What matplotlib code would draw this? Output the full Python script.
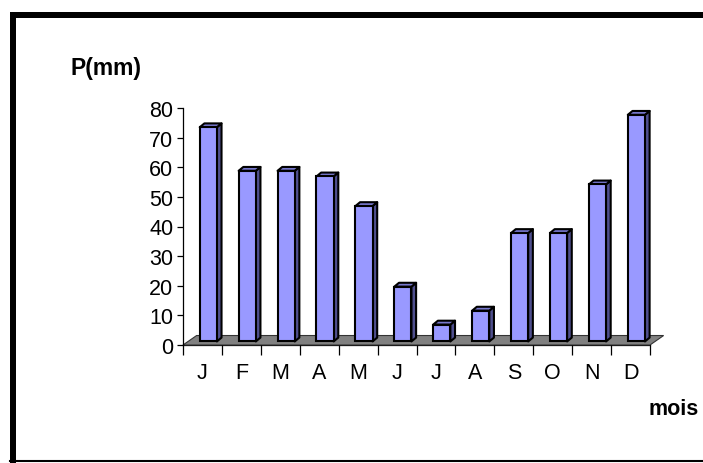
import matplotlib.pyplot as plt
from matplotlib.patches import Polygon, Rectangle
from matplotlib.lines import Line2D

plt.rcParams['font.family'] = ['Liberation Sans', 'DejaVu Sans']

# monthly rainfall (mm)
months = ['J', 'F', 'M', 'A', 'M', 'J', 'J', 'A', 'S', 'O', 'N', 'D']
rain = [72.3, 57.6, 57.6, 55.7, 45.7, 18.5, 5.7, 10.4, 36.6, 36.6, 53.0, 76.5]
yticks = [0, 10, 20, 30, 40, 50, 60, 70, 80]

# pseudo-3d look: floor depth, bar offset into floor, bar depth
floor_dx, floor_dy = 0.35, 3.2
off_dx, off_dy = 0.15, 1.2
bar_w = 0.44
dep_dx, dep_dy = 0.12, 1.3

front_col = '#9999FF'
side_col = '#4F4F8E'
top_col = '#7777CC'

fig = plt.figure(figsize=(7.03, 4.64), dpi=100)
W, H = 703, 464
ax = fig.add_axes([183 / W, (H - 346) / H, 467 / W, 237 / H])
n = len(months)
ax.set_xlim(0, n)
ax.set_ylim(0, 80)

# grey floor
floor = Polygon([(0, 0), (n, 0), (n + floor_dx, floor_dy), (floor_dx, floor_dy)],
                closed=True, facecolor='#808080', edgecolor='#333333', lw=0.8,
                clip_on=False, zorder=1)
ax.add_patch(floor)

for i, v in enumerate(rain):
    x0 = i + (1 - bar_w) / 2 + off_dx
    y0 = off_dy
    x1 = x0 + bar_w
    y1 = y0 + v
    side = Polygon([(x1, y0), (x1 + dep_dx, y0 + dep_dy), (x1 + dep_dx, y1 + dep_dy), (x1, y1)],
                   closed=True, facecolor=side_col, edgecolor='black', lw=1.5,
                   clip_on=False, zorder=2, joinstyle='round')
    top = Polygon([(x0, y1), (x1, y1), (x1 + dep_dx, y1 + dep_dy), (x0 + dep_dx, y1 + dep_dy)],
                  closed=True, facecolor=top_col, edgecolor='black', lw=1.5,
                  clip_on=False, zorder=2, joinstyle='round')
    ax.add_patch(side)
    ax.add_patch(top)
    ax.bar(x0, v, width=bar_w, bottom=y0, align='edge', color=front_col,
           edgecolor='black', linewidth=1.5, zorder=3, clip_on=False)

for s in ['top', 'right']:
    ax.spines[s].set_visible(False)
ax.spines['left'].set_linewidth(0.9)
ax.spines['bottom'].set_linewidth(0.9)
ax.spines['bottom'].set_zorder(0.5)

ax.set_yticks(yticks)
ax.set_yticklabels([str(t) for t in yticks], fontsize=15.5)
ax.tick_params(axis='y', direction='out', length=4, width=0.9, pad=3)

ax.set_xticks(range(n + 1))
ax.set_xticklabels([])
ax.tick_params(axis='x', which='major', direction='out', length=7, width=0.9)
ax.set_xticks([i + 0.5 for i in range(n)], minor=True)
ax.set_xticklabels(months, minor=True, fontsize=15.5)
ax.tick_params(axis='x', which='minor', length=0, pad=12)

fig.text(71 / W, 1 - 75 / H, 'P(mm)', fontsize=16.5, fontweight='bold')
fig.text(649 / W, 1 - 415 / H, 'mois', fontsize=15.5, fontweight='bold')

# chart border
fig.add_artist(Rectangle((10 / W, 1 - 18.5 / H), 1, 5.5 / H, transform=fig.transFigure,
                         facecolor='black', edgecolor='none'))
fig.add_artist(Rectangle((10 / W, 0), 6 / W, 1 - 13 / H, transform=fig.transFigure,
                         facecolor='black', edgecolor='none'))
fig.add_artist(Line2D([10 / W, 1], [1 - 462 / H, 1 - 462 / H], transform=fig.transFigure,
                      color='black', lw=1.5))

fig.savefig('out.png', dpi=100)
